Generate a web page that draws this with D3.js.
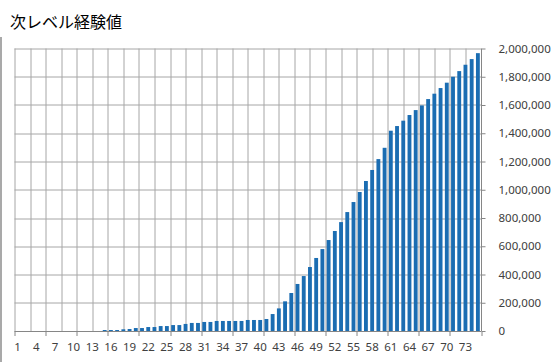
<!DOCTYPE html>
<html>
<head>
<meta charset="utf-8">
<script src="https://cdn.jsdelivr.net/npm/d3@7"></script>
<style>
  body { margin: 0; background: #fff; }
  svg { display: block; font-family: "Noto Sans", "DejaVu Sans", sans-serif; }
</style>
</head>
<body>
<svg id="chart" width="558" height="362"></svg>
<script>
    // levels 1..75
    const levels = d3.range(1, 76);
    const exp = [
      0, 0, 0, 0, 0, 0, 0, 0, 0, 0,
      0, 0, 0, 0, 7000, 7000, 7000, 12000, 14000, 21000,
      21000, 28000, 28000, 35000, 35000, 42000, 42000, 50000, 57000, 57000,
      64000, 64000, 71000, 71000, 71000, 71000, 71000, 78000, 78000, 78000,
      85000, 120000, 160000, 210000, 269000, 333000, 389000, 453000, 517000, 580000,
      644000, 708000, 771000, 842000, 913000, 984000, 1062000, 1140000, 1217000, 1297000,
      1418000, 1451000, 1489000, 1529000, 1564000, 1597000, 1642000, 1680000, 1720000, 1758000,
      1800000, 1840000, 1885000, 1925000, 1967000
    ];
    const xLabels = [1, 4, 7, 10, 13, 16, 19, 22, 25, 28, 31, 34, 37, 40, 43, 46, 49, 52, 55, 58, 61, 64, 67, 70, 73];
    const yTicks = [0, 200000, 400000, 600000, 800000, 1000000, 1200000, 1400000, 1600000, 1800000, 2000000];

    const margin = { top: 48.5, right: 77, bottom: 31, left: 14.5 };
    const width = 558 - margin.left - margin.right;
    const height = 362 - margin.top - margin.bottom;

    const svg = d3.select("#chart");

    // outer frame (left edge visible in the reference)
    svg.append("line")
      .attr("x1", 1).attr("x2", 1)
      .attr("y1", 37).attr("y2", 362)
      .attr("stroke", "#8c8c8c").attr("stroke-width", 1.5);

    svg.append("text")
      .attr("x", 10)
      .attr("y", 28)
      .attr("font-family", "'Noto Sans CJK JP', sans-serif")
      .attr("font-size", 16)
      .attr("fill", "#000")
      .text("次レベル経験値");

    const g = svg.append("g")
      .attr("transform", "translate(" + margin.left + "," + margin.top + ")");

    const x = d3.scaleBand().domain(levels).range([0, width]).paddingInner(0.38).paddingOuter(0.19);
    const xPos = d3.scaleLinear().domain([0, 75]).range([0, width]);
    const y = d3.scaleLinear().domain([0, 2000000]).range([height, 0]);

    // horizontal gridlines
    g.selectAll(".hgrid")
      .data(yTicks.slice(1))
      .enter().append("line")
      .attr("x1", 0).attr("x2", width)
      .attr("y1", d => Math.round(y(d)) + 0.5).attr("y2", d => Math.round(y(d)) + 0.5)
      .attr("stroke", "#a6a6a6");

    // vertical gridlines every 2.5 levels
    g.selectAll(".vgrid")
      .data(d3.range(0, 30))
      .enter().append("line")
      .attr("x1", d => Math.round(xPos(d * 2.5)) + 0.5).attr("x2", d => Math.round(xPos(d * 2.5)) + 0.5)
      .attr("y1", 0).attr("y2", height)
      .attr("stroke", "#a6a6a6");

    // bars
    g.selectAll(".bar")
      .data(exp)
      .enter().append("rect")
      .attr("x", (d, i) => x(levels[i]))
      .attr("width", x.bandwidth())
      .attr("y", d => y(d))
      .attr("height", d => height - y(d))
      .attr("fill", "#1b6db2");

    // bottom axis line + tick marks every 5 levels
    g.append("line")
      .attr("x1", 0).attr("x2", width)
      .attr("y1", height + 0.5).attr("y2", height + 0.5)
      .attr("stroke", "#868686");
    g.selectAll(".xtick")
      .data(d3.range(0, 16))
      .enter().append("line")
      .attr("x1", d => Math.round(xPos(d * 5)) + 0.5).attr("x2", d => Math.round(xPos(d * 5)) + 0.5)
      .attr("y1", height).attr("y2", height + 5)
      .attr("stroke", "#868686");

    g.selectAll(".xlabel")
      .data(xLabels)
      .enter().append("text")
      .attr("x", d => x(d) + x.bandwidth() / 2)
      .attr("y", height + 20)
      .attr("text-anchor", "middle")
      .attr("font-size", 11.5)
      .attr("fill", "#404040")
      .text(d => d);

    // right value axis
    const yAxis = d3.axisRight(y)
      .tickValues(yTicks)
      .tickFormat(d3.format(","))
      .tickSize(4)
      .tickPadding(13);

    const ya = g.append("g")
      .attr("transform", "translate(" + (width + 0.5) + ",0)")
      .call(yAxis);
    ya.select(".domain").attr("stroke", "#868686").attr("d", "M0,0V" + height);
    ya.selectAll(".tick line").attr("stroke", "#868686");
    ya.selectAll(".tick text")
      .attr("font-size", 11.5)
      .attr("font-family", "'Noto Sans', sans-serif")
      .attr("fill", "#404040");
</script>
</body>
</html>
